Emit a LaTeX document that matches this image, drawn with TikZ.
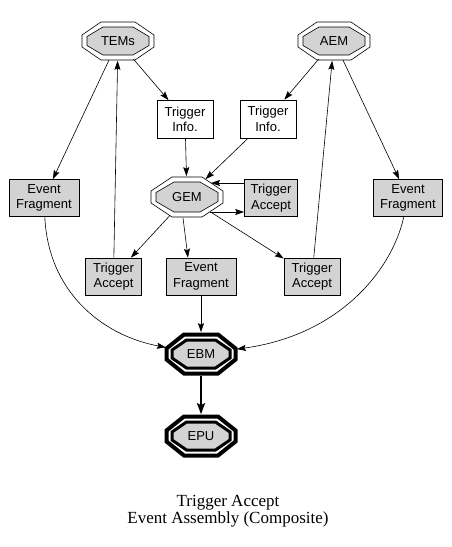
\documentclass[tikz,border=0pt]{standalone}
\usepackage{fontspec}
\setmainfont{Liberation Sans}
\newfontfamily\capfont{Liberation Serif}
\usetikzlibrary{arrows.meta,calc,shapes.geometric}
\definecolor{boxgray}{HTML}{D3D3D3}
% #1 style, #2 center, #3 W, #4 H, #5 T, #6 S
\newcommand{\octa}[6]{%
  \draw[#1] ($(#2)+(-#5,#4)$) -- ($(#2)+(#5,#4)$) -- ($(#2)+(#3,#6)$) -- ($(#2)+(#3,-#6)$)
    -- ($(#2)+(#5,-#4)$) -- ($(#2)+(-#5,-#4)$) -- ($(#2)+(-#3,-#6)$) -- ($(#2)+(-#3,#6)$) -- cycle;}
\begin{document}
\begin{tikzpicture}[x=1pt,y=1pt,
  line width=0.6pt,
  >={Stealth[length=9pt,width=6pt,inset=1.5pt]},
  lbl/.style={font=\fontsize{13}{15.5}\selectfont, align=center},
  boxnode/.style={lbl, draw, rectangle, line width=0.6pt, minimum height=37pt, inner sep=0pt},
  graybox/.style={boxnode, fill=boxgray},
  octnode/.style={lbl, ellipse, draw=none, inner sep=0pt, minimum width=72pt, minimum height=39pt},
  thickoct/.style={lbl, ellipse, draw=none, inner sep=0pt, minimum width=73pt, minimum height=43pt},
  octthin/.style={line width=0.6pt},
  octfill/.style={line width=0.6pt, fill=boxgray},
  octthickout/.style={line width=4pt, line join=miter},
  octthickin/.style={line width=3pt, fill=boxgray, line join=miter},
  edge/.style={->},
  bigedge/.style={-{Stealth[length=11pt,width=8pt,inset=2pt]}, line width=2.5pt}
]
\useasboundingbox (0,0) rectangle (452,-547);

% centres of octagons
\coordinate (temsC) at (118,-41);
\coordinate (aemC) at (334,-41);
\coordinate (gemC) at (187,-197);
\coordinate (ebmC) at (201,-354);
\coordinate (epuC) at (201,-436);

% octagon outlines
\octa{octthin}{temsC}{36}{19}{17}{6}
\octa{octfill}{temsC}{31}{14}{15}{4.5}
\octa{octthin}{aemC}{36}{19}{17}{6}
\octa{octfill}{aemC}{31}{14}{15}{4.5}
\octa{octthin}{gemC}{36}{20}{15}{6}
\octa{octfill}{gemC}{31}{15}{13}{4.5}
\octa{octthickout}{ebmC}{34.5}{19.5}{17}{5.5}
\octa{octthickin}{ebmC}{29}{14}{14.5}{4}
\octa{octthickout}{epuC}{34.5}{19.5}{17}{5.5}
\octa{octthickin}{epuC}{29}{14}{14.5}{4}

% nodes
\node[octnode] (tems) at (temsC) {TEMs};
\node[octnode] (aem) at (aemC) {AEM};
\node[octnode, minimum width=72pt, minimum height=41pt] (gem) at (gemC) {GEM};
\node[thickoct] (ebm) at (ebmC) {EBM};
\node[thickoct] (epu) at (epuC) {EPU};

\node[boxnode, minimum width=56pt, minimum height=38pt] (tiL) at (185,-119.5) {Trigger\\Info.};
\node[boxnode, minimum width=56pt, minimum height=38pt] (tiR) at (268,-119) {Trigger\\Info.};
\node[graybox, minimum width=70pt] (efL) at (44,-198) {Event\\Fragment};
\node[graybox, minimum width=69pt] (efR) at (408,-198) {Event\\Fragment};
\node[graybox, minimum width=53pt] (taR) at (271,-198) {Trigger\\Accept};
\node[graybox, minimum width=56pt] (taL) at (113.5,-276.5) {Trigger\\Accept};
\node[graybox, minimum width=70pt] (efM) at (201,-276.5) {Event\\Fragment};
\node[graybox, minimum width=56pt] (taRR) at (312,-276.5) {Trigger\\Accept};

% caption
\node[font=\capfont\fontsize{17}{17}\selectfont, align=center] (cap) at (228,-511) {Trigger Accept\\Event Assembly (Composite)};

% edges
\draw[edge] (tems) -- (efL);
\draw[edge] (tems) -- (tiL);
\draw[edge] (taL) -- (tems);
\draw[edge] (aem) -- (tiR);
\draw[edge] (aem) -- (efR);
\draw[edge] (taRR) -- (aem);
\draw[edge] (tiL) -- (gem);
\draw[edge] (tiR) -- (gem);
\draw[edge] ([yshift=15pt]taR.west) -- ($(gem)+(24,14)$);
\draw[edge] ($(gem)+(23,-15)$) -- ([yshift=-14pt]taR.west);
\draw[edge] (gem) -- (taL);
\draw[edge] ([xshift=-4pt]gem.south) -- ([xshift=-13pt]efM.north);
\draw[edge] (gem) -- (taRR);
\draw[edge] (efM) -- (ebm);
\draw[edge] (efL) .. controls (48,-290) and (100,-335) .. (ebm);
\draw[edge] (efR) .. controls (392,-270) and (340,-335) .. (ebm);
\draw[bigedge] (ebm) -- (epu);
\end{tikzpicture}
\end{document}
